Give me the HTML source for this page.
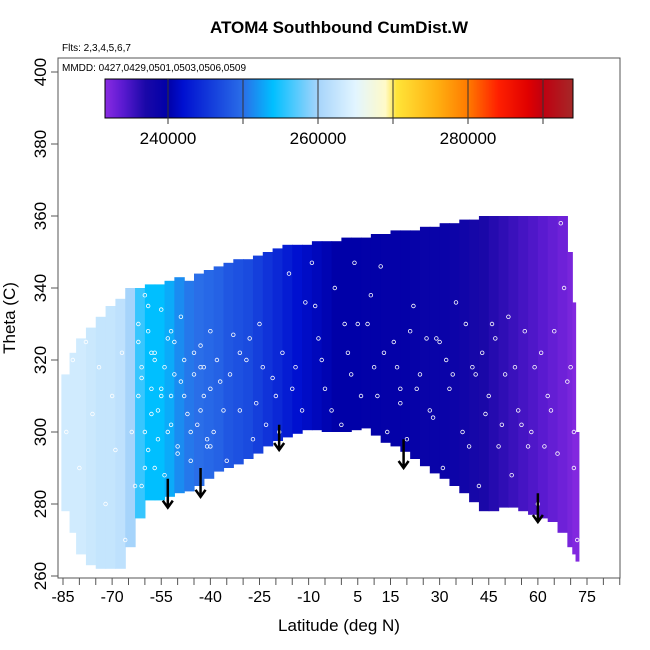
<!DOCTYPE html>
<html><head><meta charset="utf-8"><style>
html,body{margin:0;padding:0;background:#fff;}
svg{display:block;font-family:"Liberation Sans",Arial,sans-serif;}
</style></head><body>
<svg id="chart" width="650" height="650" viewBox="0 0 650 650" xmlns="http://www.w3.org/2000/svg">
<text x="339" y="33" text-anchor="middle" font-size="17" font-weight="bold">ATOM4 Southbound CumDist.W</text>
<text x="62" y="51" font-size="10">Flts: 2,3,4,5,6,7</text>
<g id="field"></g>
<g id="points"></g>
<g id="arrows"></g>
<rect x="58" y="58" width="562" height="520" fill="none" stroke="#555" stroke-width="1"/>
<text x="62" y="71" font-size="10">MMDD: 0427,0429,0501,0503,0506,0509</text>
<g id="colorbar"></g>
<g id="xaxis"></g>
<g id="yaxis"></g>
<text x="339" y="631" text-anchor="middle" font-size="17">Latitude (deg N)</text>
<text transform="translate(15,318) rotate(-90)" text-anchor="middle" font-size="17">Theta (C)</text>
</svg>
<script>
// ---- data ----
const stripLatEdges = [-85.5,-83,-81,-78,-75,-72,-69,-66,-63,-60,-57,-54,-51,-48,-45,-42,-39,-36,-33,-30,-27,-24,-21,-18,-15,-12,-9,-6,-3,0,3,6,9,12,15,18,21,24,27,30,33,36,39,42,45,48,51,54,57,60,63,66,69,70.5,71.5,72.5];
const stripTop = [316,322,326,329,332,335,337,340,340,341,341,342,343,342,344,345,346,347,348,348,349,350,351,352,352,352,353,353,353,354,354,354,355,355,356,356,356,357,357,358,358,359,359,360,360,360,360,360,360,360,360,360,350,336,300];
const stripBottom = [278,272,266,263,262,262,262,268,276,281,281,282,283,283.5,285,287,289,290,291,292.5,294,296,297.5,298.5,299.5,300.5,300.5,300,300,300,300.5,301,299,297,296,294.5,292.5,290.5,288.5,287,285,283,280.5,278,278,279,279,278,277,276,275,272,268,266,264];
const stripValue = [263500,263500,263500,263000,262500,262500,262000,260000,256000,254000,254000,253000,251500,250500,250000,249500,249000,248000,247500,247000,246000,245000,244000,243000,242000,241500,241000,240500,240000,240000,240000,239800,239800,239500,239500,239500,239300,239000,239000,238800,238500,238000,237500,237000,236500,236000,235500,235000,234500,234000,233500,233000,232500,232000,232000];
const pointLat = [-84,-82,-80,-78,-76,-74,-72,-70,-69,-67,-66,-64,-63,-62,-61,-60,-59,-58,-57,-56,-55,-54,-53,-52,-51,-50,-49,-48,-46,-45,-44,-43,-42,-41,-40,-39,-37,-35,-33,-31,-29,-27,-25,-23,-21,-19,-16,-14,-12,-9,-7,-5,-2,0,2,4,6,8,10,12,14,16,18,20,22,24,27,29,31,33,35,37,40,42,44,46,48,50,52,54,56,58,60,61,63,66,68,70,71,72,-60,-58,-55,-52,-47,-43,-40,-31,-20,-8,5,18,30,41,55,62,67,
 -62,-62,-61,-61,-60,-59,-59,-58,-57,-57,-56,-55,-54,-53,-52,-51,-50,-49,-48,-46,-45,-44,-43,-42,-41,-40,-38,-36,-34,-28,-26,-24,-18,-15,-11,-6,-3,1,3,9,11,13,17,21,23,26,28,32,34,38,39,43,45,47,49,51,53,57,59,64,65,69,71];
const pointTheta = [300,320,290,325,305,318,280,310,295,322,270,300,285,330,315,290,335,305,320,298,312,288,326,302,316,294,332,310,300,322,284,306,318,296,328,300,314,292,327,306,320,298,330,302,315,300,344,318,306,347,326,312,340,302,322,347,310,330,318,346,300,325,312,298,335,316,306,326,290,312,336,300,318,285,305,330,296,316,288,306,328,300,280,322,310,294,340,318,300,270,338,322,310,328,305,318,296,322,310,335,330,308,325,316,302,296,358,
 310,325,285,318,300,328,295,312,322,290,306,334,318,300,310,325,296,314,320,292,316,302,324,310,298,312,320,306,316,326,308,318,322,312,336,320,306,330,316,338,310,322,318,328,312,326,304,320,316,330,296,322,310,326,302,332,318,296,318,306,328,314,290];
const arrowLat = [-53,-43,-19,19,60];
const arrowTop = [287,290,302,298,283];
const arrowBottom = [279,282,295,290,275];
const xTickValues = [-85,-80,-75,-70,-65,-60,-55,-50,-45,-40,-35,-30,-25,-20,-15,-10,-5,0,5,10,15,20,25,30,35,40,45,50,55,60,65,70,75,80,85];
const xTickLabels = [-85,-70,-55,-40,-25,-10,5,15,30,45,60,75];
const yTickLabels = [260,280,300,320,340,360,380,400];
const cbTickValues = [240000,250000,260000,270000,280000,290000];
const cbTickLabels = [240000,260000,280000];
const cbStopValues = [231600,234000,237000,240000,242000,250000,254000,260000,265000,269000,270500,276000,280000,284000,288000,290000,294000];
const cbStopColors = ["#8a2be2","#5a1ad0","#1a08a8","#0000a8","#0010d0","#2a6ee8","#00bfff","#a6d4fb","#e2f5ff","#fffac8","#ffe438","#ffae10","#ff7a00","#ff2000","#e00000","#c00010","#a52828"];

// ---- scales ----
const NS = "http://www.w3.org/2000/svg";
const xScale = lat => 63 + (lat + 85) * 3.275;
const yScale = th => 576 - (th - 260) * 3.6;
const cbX = v => 168 + (v - 240000) * 0.0075;
function hex(c){return [parseInt(c.slice(1,3),16),parseInt(c.slice(3,5),16),parseInt(c.slice(5,7),16)];}
function colorOf(v){
  if(v<=cbStopValues[0]) return cbStopColors[0];
  for(let i=1;i<cbStopValues.length;i++){
    if(v<=cbStopValues[i]){
      const t=(v-cbStopValues[i-1])/(cbStopValues[i]-cbStopValues[i-1]);
      const a=hex(cbStopColors[i-1]), b=hex(cbStopColors[i]);
      return "rgb("+a.map((x,k)=>Math.round(x+(b[k]-x)*t)).join(",")+")";
    }
  }
  return cbStopColors[cbStopColors.length-1];
}
function mk(tag, attrs, parent){
  const e=document.createElementNS(NS,tag);
  for(const k in attrs) e.setAttribute(k,attrs[k]);
  parent.appendChild(e); return e;
}

// field strips
const field=document.getElementById('field');
for(let i=0;i<stripValue.length;i++){
  const x0=xScale(stripLatEdges[i]), x1=xScale(stripLatEdges[i+1]);
  const r=mk('rect',{x:x0,y:yScale(stripTop[i]),width:x1-x0+0.6,height:yScale(stripBottom[i])-yScale(stripTop[i]),fill:colorOf(stripValue[i])},field);
  
  
}
// points
const pts=document.getElementById('points');
for(let i=0;i<pointLat.length;i++){
  const c=mk('circle',{cx:xScale(pointLat[i]),cy:yScale(pointTheta[i]),r:1.8,fill:'none',stroke:'#fff','stroke-width':0.8},pts);
  
  
}
// arrows
const arr=document.getElementById('arrows');
for(let i=0;i<arrowLat.length;i++){
  const x=xScale(arrowLat[i]), y0=yScale(arrowTop[i]), y1=yScale(arrowBottom[i]);
  const p=mk('path',{d:`M${x},${y0}L${x},${y1}M${x-5},${y1-7}L${x},${y1}L${x+5},${y1-7}`,stroke:'#000','stroke-width':2.5,fill:'none'},arr);
  
  
}
// colorbar
const cb=document.getElementById('colorbar');
for(let x=105;x<573;x++){
  const v=240000+(x+0.5-168)/0.0075;
  mk('rect',{x:x,y:79,width:1.2,height:39,fill:colorOf(v)},cb);
}
mk('rect',{x:105,y:79,width:468,height:39,fill:'none',stroke:'#000','stroke-width':1},cb);
cbTickValues.forEach(v=>{
  const x=cbX(v);
  const l=mk('line',{x1:x,y1:79,x2:x,y2:124,stroke:'#333','stroke-width':1},cb);
  
  
});
cbTickLabels.forEach(v=>{
  const t=mk('text',{x:cbX(v),y:144,'text-anchor':'middle','font-size':17},cb);
  t.textContent=v;
  
  
});
// x axis
const xa=document.getElementById('xaxis');
xTickValues.forEach(v=>{
  const l=mk('line',{x1:xScale(v),y1:578,x2:xScale(v),y2:585,stroke:'#555','stroke-width':1},xa);
  
  
});
xTickLabels.forEach(v=>{
  const t=mk('text',{x:xScale(v),y:602,'text-anchor':'middle','font-size':16},xa);
  t.textContent=v;
  
  
});
// y axis
const ya=document.getElementById('yaxis');
yTickLabels.forEach(v=>{
  const y=yScale(v);
  const l=mk('line',{x1:51,y1:y,x2:58,y2:y,stroke:'#555','stroke-width':1},ya);
  
  
  const t=mk('text',{transform:`translate(46,${y}) rotate(-90)`,'text-anchor':'middle','font-size':17},ya);
  t.textContent=v;
  
  
});
</script>
</body></html>
